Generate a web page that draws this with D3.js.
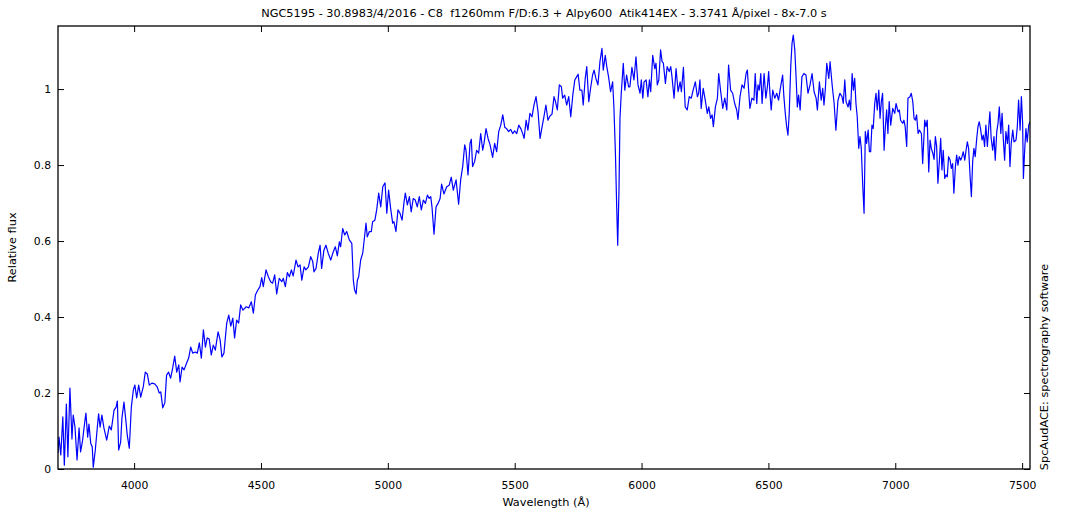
<!DOCTYPE html>
<html>
<head>
<meta charset="utf-8">
<script src="https://cdn.jsdelivr.net/npm/d3@7"></script>
<style>
  html, body { margin: 0; padding: 0; background: #fff; }
  svg text { font-family: "DejaVu Sans", Verdana, sans-serif; fill: #000; white-space: pre; }
</style>
</head>
<body>
<svg id="chart" width="1070" height="510"></svg>
<script>
const titleText = "NGC5195 - 30.8983/4/2016 - C8  f1260mm F/D:6.3 + Alpy600  Atik414EX - 3.3741 \u00C5/pixel - 8x-7.0 s";
const xLabel = "Wavelength (\u00C5)";
const yLabel = "Relative flux";
const sideLabel = "SpcAudACE: spectrography software";
const xTicks = [4000, 4500, 5000, 5500, 6000, 6500, 7000, 7500];
const yTicks = [0, 0.2, 0.4, 0.6, 0.8, 1];
const xDomain = [3700, 7531];
const yDomain = [0, 1.166];

const wavelength = [
3700,3704,3711,3719,3725,3733,3739,3747,3755,3760,3767,3775,3783,3789,3797,3805,3810,3817,3822,3829,
3835,3839,3847,3855,3860,3866,3873,3881,3892,3902,3910,3921,3929,3934,3939,3947,3952,3960,3968,3973,
3981,3989,3997,4003,4010,4018,4026,4036,4044,4052,4060,4070,4081,4091,4099,4105,4113,4121,4128,4136,
4144,4152,4160,4168,4176,4181,4189,4197,4207,4215,4223,4231,4241,4249,4257,4265,4273,4281,4288,4296,
4304,4312,4320,4331,4339,4346,4354,4365,4373,4381,4389,4396,4404,4412,4420,4429,4442,4452,4462,4470,
4478,4486,4496,4503,4509,4520,4529,4538,4546,4554,4562,4572,4582,4588,4596,4604,4612,4620,4627,4638,
4646,4654,4661,4670,4677,4687,4696,4704,4709,4717,4726,4733,4739,4748,4756,4765,4775,4785,4793,4801,
4809,4814,4822,4830,4838,4848,4858,4864,4869,4875,4880,4885,4893,4901,4909,4914,4919,4927,4935,4940,
4949,4956,4964,4972,4980,4989,4996,5003,5011,5019,5024,5032,5040,5048,5056,5064,5069,5077,5085,5092,
5100,5108,5116,5124,5132,5140,5148,5156,5163,5169,5174,5182,5190,5198,5206,5212,5221,5232,5242,5250,
5258,5269,5279,5287,5295,5303,5308,5316,5324,5329,5334,5342,5350,5358,5366,5374,5379,5387,5395,5403,
5413,5421,5429,5437,5445,5453,5461,5468,5476,5484,5492,5500,5508,5516,5524,5532,5537,5545,5552,5560,
5568,5576,5584,5592,5600,5608,5615,5623,5631,5639,5647,5655,5660,5668,5676,5684,5689,5697,5705,5713,
5721,5729,5737,5744,5750,5757,5765,5770,5778,5784,5792,5800,5807,5813,5820,5828,5836,5844,5849,5857,
5863,5870,5878,5886,5891,5897,5902,5906,5911,5915,5920,5928,5934,5941,5949,5954,5962,5970,5978,5986,
5994,5999,6005,6010,6018,6025,6031,6036,6044,6052,6057,6062,6068,6075,6081,6086,6094,6101,6109,6115,
6120,6128,6136,6144,6152,6157,6165,6172,6180,6188,6196,6204,6212,6220,6225,6230,6235,6243,6251,6259,
6265,6272,6278,6283,6291,6299,6304,6312,6320,6328,6336,6343,6351,6359,6367,6375,6380,6388,6396,6404,
6412,6417,6422,6427,6435,6443,6448,6454,6459,6464,6470,6475,6483,6490,6496,6501,6506,6511,6517,6525,
6533,6540,6548,6556,6561,6567,6572,6577,6582,6588,6593,6598,6604,6609,6614,6619,6625,6632,6640,6648,
6656,6664,6672,6680,6688,6693,6701,6708,6714,6719,6724,6730,6738,6743,6751,6759,6766,6774,6782,6790,
6795,6801,6806,6814,6819,6824,6830,6835,6840,6845,6850,6856,6861,6866,6872,6877,6882,6887,6893,6898,
6903,6908,6913,6919,6924,6929,6935,6940,6945,6950,6956,6961,6966,6971,6976,6982,6990,6998,7003,7011,
7016,7021,7029,7034,7039,7045,7050,7058,7063,7069,7074,7079,7084,7090,7095,7103,7108,7116,7121,7126,
7132,7137,7142,7148,7153,7158,7163,7168,7174,7179,7184,7189,7195,7200,7205,7210,7216,7221,7226,7231,
7237,7242,7247,7252,7258,7263,7268,7274,7279,7284,7289,7295,7300,7305,7310,7315,7321,7326,7331,7336,
7342,7347,7352,7357,7363,7368,7373,7378,7384,7389,7394,7400,7405,7410,7416,7421,7426,7431,7436,7442,
7447,7452,7457,7463,7468,7476,7481,7486,7492,7497,7502,7505,7510,7515,7520,7526,7531
];

const flux = [
0.042,0.084,0.037,0.137,0.010,0.171,0.032,0.213,0.079,0.142,0.110,0.024,0.108,0.045,0.076,0.121,0.147,0.084,0.118,0.068,
0.058,0.005,0.050,0.110,0.145,0.110,0.142,0.108,0.076,0.113,0.103,0.155,0.163,0.179,0.050,0.071,0.134,0.176,0.124,0.089,
0.055,0.163,0.208,0.221,0.187,0.221,0.189,0.216,0.255,0.250,0.221,0.226,0.224,0.216,0.200,0.203,0.161,0.174,0.247,0.255,
0.239,0.266,0.297,0.255,0.274,0.229,0.268,0.261,0.279,0.292,0.321,0.305,0.308,0.305,0.332,0.292,0.366,0.321,0.345,0.342,
0.300,0.326,0.313,0.361,0.340,0.295,0.305,0.384,0.405,0.376,0.397,0.345,0.392,0.384,0.432,0.418,0.427,0.424,0.440,0.410,
0.458,0.469,0.480,0.504,0.480,0.524,0.506,0.493,0.489,0.511,0.461,0.502,0.493,0.502,0.480,0.517,0.506,0.524,0.508,0.550,
0.532,0.537,0.497,0.532,0.524,0.532,0.559,0.546,0.519,0.528,0.568,0.589,0.528,0.576,0.589,0.568,0.550,0.572,0.585,0.561,
0.598,0.585,0.633,0.616,0.625,0.603,0.594,0.497,0.471,0.461,0.497,0.506,0.550,0.568,0.616,0.647,0.611,0.625,0.625,0.651,
0.655,0.682,0.726,0.690,0.743,0.753,0.673,0.734,0.686,0.647,0.651,0.625,0.682,0.673,0.655,0.703,0.726,0.695,0.717,0.677,
0.712,0.708,0.690,0.717,0.682,0.708,0.699,0.721,0.712,0.717,0.690,0.618,0.690,0.699,0.712,0.750,0.724,0.743,0.747,0.768,
0.734,0.761,0.697,0.761,0.796,0.853,0.839,0.774,0.857,0.868,0.796,0.809,0.839,0.831,0.883,0.839,0.857,0.896,0.870,0.853,
0.820,0.857,0.835,0.888,0.905,0.932,0.899,0.896,0.888,0.894,0.883,0.890,0.883,0.905,0.896,0.882,0.870,0.918,0.892,0.936,
0.927,0.958,0.980,0.940,0.870,0.901,0.926,0.958,0.918,0.929,0.934,0.980,0.969,0.945,1.011,1.006,0.976,0.984,0.958,0.980,
0.927,0.984,1.024,1.032,1.039,0.997,0.997,0.958,1.028,1.059,0.967,1.006,1.037,1.050,1.028,1.011,1.072,1.107,1.050,1.089,
1.059,1.032,0.993,1.019,0.953,0.831,0.690,0.589,0.734,0.923,0.989,1.068,0.997,1.037,1.006,1.006,1.057,1.024,1.085,1.011,
0.989,1.024,0.976,1.019,1.024,0.980,1.024,0.993,1.089,1.054,1.068,1.011,1.024,1.103,1.072,1.068,1.015,1.059,1.046,1.059,
1.032,0.976,1.054,0.993,1.019,0.993,1.057,0.953,0.945,0.980,0.976,0.999,1.019,0.980,0.989,1.024,0.949,1.002,0.971,0.936,
0.953,0.923,0.932,0.901,0.953,0.976,1.041,0.993,0.949,0.976,0.945,1.063,0.997,0.989,0.962,0.945,0.920,0.980,1.011,1.002,
1.041,1.050,0.997,0.949,0.976,0.971,1.041,0.962,1.011,0.997,1.041,0.962,1.041,0.976,1.006,1.046,0.989,0.945,0.997,0.976,
0.989,0.971,1.006,1.037,0.980,0.932,0.901,0.879,0.936,1.059,1.120,1.142,1.103,1.032,0.953,0.984,0.945,1.032,1.041,1.037,
0.989,1.011,1.041,0.993,0.976,0.945,1.019,0.971,1.002,0.958,0.997,1.068,1.028,1.072,1.012,0.962,0.892,0.970,0.989,0.980,
0.962,1.024,0.967,0.953,0.971,0.945,1.041,0.997,1.028,0.962,0.927,0.844,0.875,0.844,0.743,0.673,0.888,0.857,0.892,0.835,
0.835,0.905,0.896,0.962,0.989,0.945,0.997,0.923,0.967,0.989,0.839,0.901,0.945,0.883,0.967,0.905,0.949,0.936,0.962,0.940,
0.945,0.918,0.910,0.918,0.901,0.849,0.976,0.980,0.989,0.967,0.923,0.918,0.932,0.883,0.892,0.883,0.804,0.918,0.901,0.918,
0.782,0.866,0.844,0.831,0.815,0.875,0.849,0.752,0.813,0.870,0.787,0.839,0.765,0.774,0.769,0.822,0.813,0.791,0.804,0.726,
0.796,0.826,0.800,0.822,0.813,0.822,0.835,0.813,0.839,0.861,0.844,0.769,0.717,0.809,0.844,0.822,0.870,0.901,0.914,0.896,
0.866,0.879,0.849,0.905,0.849,0.896,0.940,0.870,0.839,0.875,0.813,0.888,0.910,0.953,0.883,0.936,0.866,0.813,0.888,0.857,
0.905,0.796,0.857,0.892,0.861,0.866,0.901,0.971,0.892,0.980,0.910,0.765,0.839,0.896,0.861,0.905,0.914
];

const svg = d3.select("#chart");
const m = { left: 58, right: 1030, top: 26, bottom: 469 };

const x = d3.scaleLinear().domain(xDomain).range([m.left, m.right]);
const y = d3.scaleLinear().domain(yDomain).range([m.bottom, m.top]);

const data = wavelength.map((w, i) => ({ w, f: flux[i] }));

svg.append("defs").append("clipPath").attr("id", "clip")
  .append("rect").attr("x", m.left).attr("y", m.top)
  .attr("width", m.right - m.left).attr("height", m.bottom - m.top);

svg.append("path")
  .datum(data)
  .attr("clip-path", "url(#clip)")
  .attr("fill", "none")
  .attr("stroke", "#0000ff")
  .attr("stroke-width", 1.2)
  .attr("stroke-linejoin", "round")
  .attr("d", d3.line().x(d => x(d.w)).y(d => y(d.f)));

const fmtY = d => d === 0 ? "0" : d === 1 ? "1" : String(d);

const gB = svg.append("g").attr("transform", `translate(0,${m.bottom})`)
  .call(d3.axisBottom(x).tickValues(xTicks).tickSize(-6).tickPadding(12).tickFormat(d3.format("d")));
const gT = svg.append("g").attr("transform", `translate(0,${m.top})`)
  .call(d3.axisTop(x).tickValues(xTicks).tickSize(-6).tickFormat(""));
const gL = svg.append("g").attr("transform", `translate(${m.left},0)`)
  .call(d3.axisLeft(y).tickValues(yTicks).tickSize(-6).tickPadding(7).tickFormat(fmtY));
const gR = svg.append("g").attr("transform", `translate(${m.right},0)`)
  .call(d3.axisRight(y).tickValues(yTicks).tickSize(-6).tickFormat(""));

[gB, gT, gL, gR].forEach(g => {
  g.select(".domain").remove();
  g.selectAll(".tick line").attr("stroke", "#000").attr("stroke-width", 1);
  g.selectAll(".tick text").attr("font-size", "10.8px").attr("fill", "#000")
    .style("font-family", "'DejaVu Sans', Verdana, sans-serif");
});

svg.append("rect")
  .attr("x", m.left).attr("y", m.top)
  .attr("width", m.right - m.left).attr("height", m.bottom - m.top)
  .attr("fill", "none").attr("stroke", "#000").attr("stroke-width", 1.3);

svg.append("text").attr("x", 544).attr("y", 17)
  .attr("text-anchor", "middle").attr("font-size", "11.3px")
  .attr("xml:space", "preserve").text(titleText);

svg.append("text").attr("x", 546).attr("y", 506)
  .attr("text-anchor", "middle").attr("font-size", "11.3px").text(xLabel);

svg.append("text").attr("transform", `translate(16,${(m.top + m.bottom) / 2}) rotate(-90)`)
  .attr("text-anchor", "middle").attr("font-size", "11.3px").text(yLabel);

svg.append("text").attr("transform", `translate(1048,367) rotate(-90)`)
  .attr("text-anchor", "middle").attr("font-size", "11.3px").text(sideLabel);
</script>
</body>
</html>
